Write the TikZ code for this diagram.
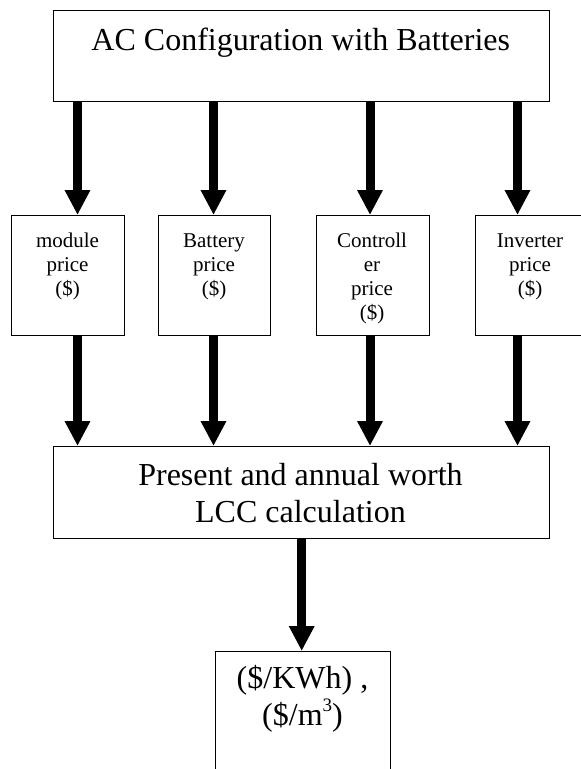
\documentclass[tikz,border=0pt]{standalone}
\usepackage{fontspec}
\setmainfont{Liberation Serif}
\usetikzlibrary{arrows.meta}
\newcommand{\mysupthree}{\raisebox{0.42em}{\fontsize{19}{19}\selectfont 3}}
\begin{document}
\begin{tikzpicture}[x=1pt,y=-1pt,
  box/.style={draw, line width=1.4pt, inner sep=0pt, anchor=north west},
  big/.style={font=\fontsize{32}{37}\selectfont, align=center, inner sep=0pt, anchor=base},
  small/.style={font=\fontsize{21}{24}\selectfont, align=center, inner sep=0pt, anchor=base},
  arr/.style={line width=9pt, -{Triangle[width=24pt,length=25pt]}}]
\useasboundingbox (0,0) rectangle (581,769);
% boxes
\node[box, minimum width=496pt, minimum height=91pt] (top) at (52.7,10) {};
\node[box, minimum width=113pt, minimum height=120pt] (b1) at (11,215) {};
\node[box, minimum width=112pt, minimum height=120pt] (b2) at (158,215) {};
\node[box, minimum width=113.5pt, minimum height=120pt] (b3) at (315.5,215) {};
\node[box, minimum width=113pt, minimum height=120pt] (b4) at (475,215) {};
\node[box, minimum width=496pt, minimum height=92pt] (lcc) at (52.7,446) {};
\node[box, minimum width=175pt, minimum height=140pt] (res) at (215,651) {};
% texts (multi-line nodes: base = last line's baseline)
\node[big] (ttop) at (300.8,50) {AC Configuration with Batteries};
\node[small] (t1) at (67.5,295) {module\\price\\(\$)};
\node[small] (t2) at (214,295) {Battery\\price\\(\$)};
\node[small] (t3) at (372,319) {Controll\\er\\price\\(\$)};
\node[small] (t4) at (530,295) {Inverter\\price\\(\$)};
\node[big] (tlcc) at (300.5,522) {Present and annual worth\\LCC calculation};
\node[big] (tres) at (302.5,725) {(\$/KWh) ,\\ (\$/m\mysupthree)};
% arrow columns
\coordinate (x1) at (77.5,0);
\coordinate (x2) at (213.5,0);
\coordinate (x3) at (370,0);
\coordinate (x4) at (517.5,0);
\coordinate (x5) at (301.7,0);
\draw[arr] (top.south -| x1) -- (b1.north -| x1);
\draw[arr] (top.south -| x2) -- (b2.north -| x2);
\draw[arr] (top.south -| x3) -- (b3.north -| x3);
\draw[arr] (top.south -| x4) -- (b4.north -| x4);
\draw[arr] (b1.south -| x1) -- (lcc.north -| x1);
\draw[arr] (b2.south -| x2) -- (lcc.north -| x2);
\draw[arr] (b3.south -| x3) -- (lcc.north -| x3);
\draw[arr] (b4.south -| x4) -- (lcc.north -| x4);
\draw[arr] (lcc.south -| x5) -- (res.north -| x5);
\end{tikzpicture}
\end{document}
